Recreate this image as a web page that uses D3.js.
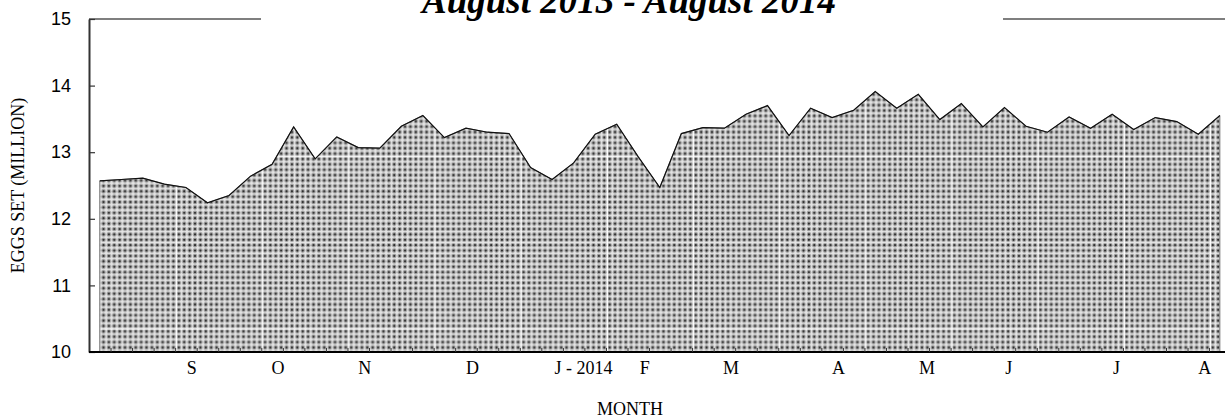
<!DOCTYPE html>
<html>
<head>
<meta charset="utf-8">
<script src="https://cdn.jsdelivr.net/npm/d3@7"></script>
<style>
  body { margin: 0; background: #fff; }
  svg { display: block; }
</style>
</head>
<body>
<svg width="1225" height="419"></svg>
<script>
// weekly eggs set, Aug 2013 - Aug 2014 (million)
var eggsSet = [
  12.57, 12.59, 12.61, 12.52, 12.47, 12.24, 12.35, 12.64, 12.82, 13.38,
  12.90, 13.23, 13.07, 13.06, 13.39, 13.55, 13.22, 13.36, 13.30, 13.28,
  12.77, 12.59, 12.84, 13.27, 13.42, 12.93, 12.47, 13.28, 13.37, 13.36,
  13.57, 13.70, 13.25, 13.66, 13.52, 13.63, 13.91, 13.66, 13.87, 13.49,
  13.73, 13.38, 13.67, 13.39, 13.30, 13.53, 13.36, 13.57, 13.34, 13.52,
  13.46, 13.27, 13.55
];
// month labels and the week they fall on
var monthLabels = ["S", "O", "N", "D", "J - 2014", "F", "M", "A", "M", "J", "J", "A"];
var monthWeek = [4.27, 8.27, 12.3, 17.3, 21.27, 25.3, 29.3, 34.3, 38.4, 42.2, 47.2, 51.3];
var yTicks = [10, 11, 12, 13, 14, 15];
var title = "August 2013 - August 2014";

var svg = d3.select("svg");
var margin = {top: 19, left: 89, bottom: 67};
var height = 419 - margin.top - margin.bottom;
var weekW = 21.54;

var x = d3.scaleLinear()
  .domain([-0.5, eggsSet.length - 0.5])
  .range([margin.left, margin.left + weekW * eggsSet.length]);
var y = d3.scaleLinear()
  .domain([10, 15])
  .range([margin.top + height, margin.top]);

// dotted fill: a tile of 16 x 32 dots with a white seam on its edge
var step = weekW * 4 / 16;
var tileW = step * 16, tileH = step * 32;
var pat = svg.append("defs").append("pattern")
  .attr("id", "dots")
  .attr("patternUnits", "userSpaceOnUse")
  .attr("width", tileW)
  .attr("height", tileH)
  .attr("x", x(3.5) + 1)
  .attr("y", -16);
pat.append("rect").attr("width", tileW).attr("height", tileH).attr("fill", "#e4e4e4");
var cells = [];
d3.range(16).forEach(function(c) {
  d3.range(32).forEach(function(r) { cells.push([c, r]); });
});
pat.selectAll("circle.halo")
  .data(cells).enter().append("circle")
  .attr("class", "halo")
  .attr("cx", function(d) { return (d[0] + 0.5) * step; })
  .attr("cy", function(d) { return (d[1] + 0.5) * step; })
  .attr("r", 2.3)
  .attr("fill", "#a0a0a0");
pat.selectAll("circle.core")
  .data(cells).enter().append("circle")
  .attr("class", "core")
  .attr("cx", function(d) { return (d[0] + 0.5) * step; })
  .attr("cy", function(d) { return (d[1] + 0.5) * step; })
  .attr("r", 1.1)
  .attr("fill", "#2a2a2a");
pat.append("rect").attr("width", 1).attr("height", tileH).attr("fill", "#fff");
pat.append("rect").attr("width", tileW).attr("height", 1).attr("fill", "#fff");

var area = d3.area()
  .x(function(d, i) { return x(i); })
  .y0(y(10))
  .y1(function(d) { return y(d); });
var line = d3.line()
  .x(function(d, i) { return x(i); })
  .y(function(d) { return y(d); });

svg.append("path")
  .datum(eggsSet)
  .attr("d", area)
  .attr("fill", "url(#dots)")
  .attr("stroke", "#777")
  .attr("stroke-width", 1);

svg.append("path")
  .datum(eggsSet)
  .attr("d", line)
  .attr("fill", "none")
  .attr("stroke", "#111")
  .attr("stroke-width", 1.2);

// top frame line, broken for the title
var titleX = 629;
svg.append("line")
  .attr("x1", margin.left).attr("x2", 1225)
  .attr("y1", y(15)).attr("y2", y(15))
  .attr("stroke", "#555").attr("stroke-width", 1.5);
svg.append("rect")
  .attr("x", titleX - 368).attr("y", 0)
  .attr("width", 742).attr("height", 30)
  .attr("fill", "#fff");
svg.append("text")
  .attr("x", titleX).attr("y", 13)
  .attr("text-anchor", "middle")
  .style("font-family", "'Liberation Serif', 'Times New Roman', serif")
  .style("font-weight", "bold")
  .style("font-style", "italic")
  .style("font-size", "37px")
  .text(title);

// y axis, ticks pointing inward
var yAxis = svg.append("g")
  .attr("transform", "translate(" + margin.left + ",0)")
  .call(d3.axisLeft(y).tickValues(yTicks).tickFormat(d3.format("d"))
    .tickSizeInner(-6).tickSizeOuter(0).tickPadding(18));
yAxis.select(".domain").attr("stroke", "#333").attr("stroke-width", 2);
yAxis.selectAll(".tick line").attr("stroke", "#333").attr("stroke-width", 1.2);
yAxis.selectAll("text")
  .style("font-family", "'Liberation Sans', Arial, sans-serif")
  .style("font-size", "18px")
  .attr("fill", "#000");

// x axis, small weekly ticks pointing up
var xAxis = svg.append("g")
  .attr("transform", "translate(0," + y(10) + ")")
  .call(d3.axisBottom(x).tickValues(d3.range(0.5, eggsSet.length, 1))
    .tickSizeInner(-4).tickSizeOuter(0).tickFormat(""));
xAxis.select(".domain").attr("d", "M" + margin.left + ",0H1225").attr("stroke", "#000").attr("stroke-width", 2);
xAxis.selectAll(".tick line").attr("stroke", "#333").attr("stroke-width", 1);

var serif = "'Liberation Serif', 'Times New Roman', serif";
svg.selectAll(".month")
  .data(monthLabels)
  .enter().append("text")
  .attr("class", "month")
  .attr("x", function(d, i) { return x(monthWeek[i]); })
  .attr("y", 374)
  .attr("text-anchor", function(d) { return d.length > 1 ? "start" : "middle"; })
  .style("font-family", serif)
  .style("font-size", "18px")
  .text(function(d) { return d; });
// long label: keep "J" centred on its week like the others
svg.selectAll(".month").filter(function(d) { return d.length > 1; })
  .attr("x", function() { return x(monthWeek[4]) - 3.5; });

svg.append("text")
  .attr("x", 630).attr("y", 415)
  .attr("text-anchor", "middle")
  .style("font-family", serif)
  .style("font-size", "18px")
  .text("MONTH");

svg.append("text")
  .attr("transform", "translate(24," + (margin.top + height / 2) + ") rotate(-90)")
  .attr("text-anchor", "middle")
  .style("font-family", serif)
  .style("font-size", "18px")
  .text("EGGS SET (MILLION)");
</script>
</body>
</html>
